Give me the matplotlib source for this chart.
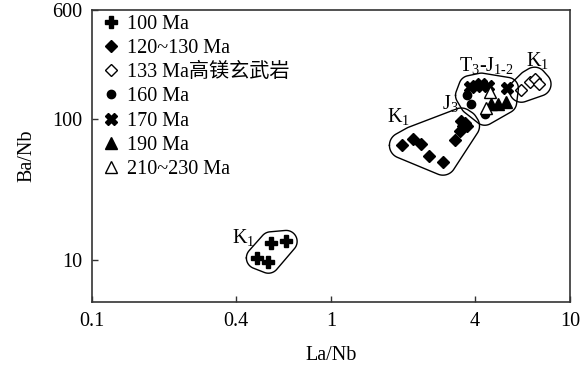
import numpy as np
import matplotlib
matplotlib.use("Agg")
import matplotlib.pyplot as plt
from matplotlib.ticker import FixedLocator, FixedFormatter, NullLocator

plt.rcParams['font.family'] = ['Liberation Serif', 'Noto Sans CJK SC', 'DejaVu Sans']
plt.rcParams['mathtext.fontset'] = 'custom'
plt.rcParams['mathtext.rm'] = 'Liberation Serif'
plt.rcParams['mathtext.it'] = 'Liberation Serif:italic'

# ---- data (La/Nb, Ba/Nb) ----
ma100_x = [0.560, 0.649, 0.492, 0.547]
ma100_y = [13.2, 13.5, 10.3, 9.6]

ma120_x = [1.99, 2.21, 2.39, 2.57, 2.94, 3.30, 3.46, 3.63, 3.51, 3.69, 3.55]
ma120_y = [65.2, 72.0, 66.3, 54.7, 49.5, 71.1, 82.5, 93.6, 97.2, 89.6, 89.6]

ma133_x = [6.26, 6.78, 7.11, 7.42]
ma133_y = [161, 184, 193, 178]

ma160_x = [3.69, 3.87, 4.40]
ma160_y = [148, 129, 108.6]

ma170_x = [3.81, 4.26, 4.54, 5.47, 4.03]
ma170_y = [171, 178, 173, 166, 172]

ma190_x = [4.69, 4.99, 5.38]
ma190_y = [128, 128, 132]

ma210_x = [4.61, 4.47]
ma210_y = [157, 121]

x_ticks = [0.1, 0.4, 1, 4, 10]
x_ticklabels = ['0.1', '0.4', '1', '4', '10']
y_ticks = [10, 100, 600]
y_ticklabels = ['10', '100', '600']

fig = plt.figure(figsize=(5.86, 3.74), dpi=100)
ax = fig.add_axes([92/586, 72/374, 478/586, 292/374])
ax.set_xscale('log')
ax.set_yscale('log')
ax.set_xlim(0.1, 10)
ax.set_ylim(5, 600)

ms = dict(color='black', linestyle='none')
ax.plot(ma100_x, ma100_y, marker='P', markersize=9, label='100 Ma', **ms)
ax.plot(ma120_x, ma120_y, marker='D', markersize=6, label='120~130 Ma', **ms)
ax.plot(ma133_x, ma133_y, marker='D', markersize=6, markerfacecolor='white',
        markeredgewidth=1.0, label='133 Ma高镁玄武岩', **ms)
ax.plot(ma160_x, ma160_y, marker='o', markersize=6, label='160 Ma', **ms)
ax.plot(ma170_x, ma170_y, marker='X', markersize=8, label='170 Ma', **ms)
ax.plot(ma190_x, ma190_y, marker='^', markersize=8, label='190 Ma', **ms)
ax.plot(ma210_x, ma210_y, marker='^', markersize=8, markerfacecolor='white',
        markeredgewidth=1.0, label='210~230 Ma', **ms)


def hull(points):
    pts = sorted(set(points))
    def cross(o, a, b):
        return (a[0]-o[0])*(b[1]-o[1]) - (a[1]-o[1])*(b[0]-o[0])
    lower, upper = [], []
    for p in pts:
        while len(lower) >= 2 and cross(lower[-2], lower[-1], p) <= 0:
            lower.pop()
        lower.append(p)
    for p in reversed(pts):
        while len(upper) >= 2 and cross(upper[-2], upper[-1], p) <= 0:
            upper.pop()
        upper.append(p)
    return lower[:-1] + upper[:-1]


def envelope(xs, ys, r=11, n=60):
    disp = ax.transData.transform(np.column_stack([xs, ys]))
    ang = np.linspace(0, 2*np.pi, n, endpoint=False)
    cloud = []
    for px, py in disp:
        for a in ang:
            cloud.append((round(px + r*np.cos(a), 4), round(py + r*np.sin(a), 4)))
    h = np.array(hull(cloud))
    h = np.vstack([h, h[:1]])
    d = ax.transData.inverted().transform(h)
    ax.plot(d[:, 0], d[:, 1], color='black', lw=1.0)


envelope(ma100_x, ma100_y, r=11)
envelope(ma120_x, ma120_y, r=13)
envelope(ma133_x, ma133_y, r=12)
envelope(ma160_x + ma170_x + ma190_x + ma210_x,
         ma160_y + ma170_y + ma190_y + ma210_y, r=11)

fs = 14.5
ax.text(0.43, 14.4, r'$\mathrm{K_{1}}$', fontsize=fs, ha='center', va='center')
ax.text(1.92, 104, r'$\mathrm{K_{1}}$', fontsize=fs, ha='center', va='center')
ax.text(3.15, 130, r'$\mathrm{J_{3}}$', fontsize=fs, ha='center', va='center')
ax.text(4.48, 240, r'$\mathrm{T_{3}}$-$\mathrm{J_{1\text{-}2}}$', fontsize=fs, ha='center', va='center')
ax.text(7.3, 262, r'$\mathrm{K_{1}}$', fontsize=fs, ha='center', va='center')

ax.xaxis.set_major_locator(FixedLocator(x_ticks))
ax.xaxis.set_major_formatter(FixedFormatter(x_ticklabels))
ax.xaxis.set_minor_locator(NullLocator())
ax.yaxis.set_major_locator(FixedLocator(y_ticks))
ax.yaxis.set_major_formatter(FixedFormatter(y_ticklabels))
ax.yaxis.set_minor_locator(NullLocator())
ax.tick_params(direction='in', length=4, width=1, labelsize=fs, pad=7, color='#333333')
for s in ax.spines.values():
    s.set_linewidth(1.2)
    s.set_color('#333333')

ax.set_xlabel('La/Nb', fontsize=fs, labelpad=11)
ax.set_ylabel('Ba/Nb', fontsize=fs, labelpad=11)

leg = ax.legend(loc='upper left', frameon=False, fontsize=fs, handlelength=1.0,
                handletextpad=0.3, labelspacing=0.25, borderpad=0.1,
                borderaxespad=0.0, bbox_to_anchor=(0.015, 0.99))

fig.savefig('out.png', dpi=100)
